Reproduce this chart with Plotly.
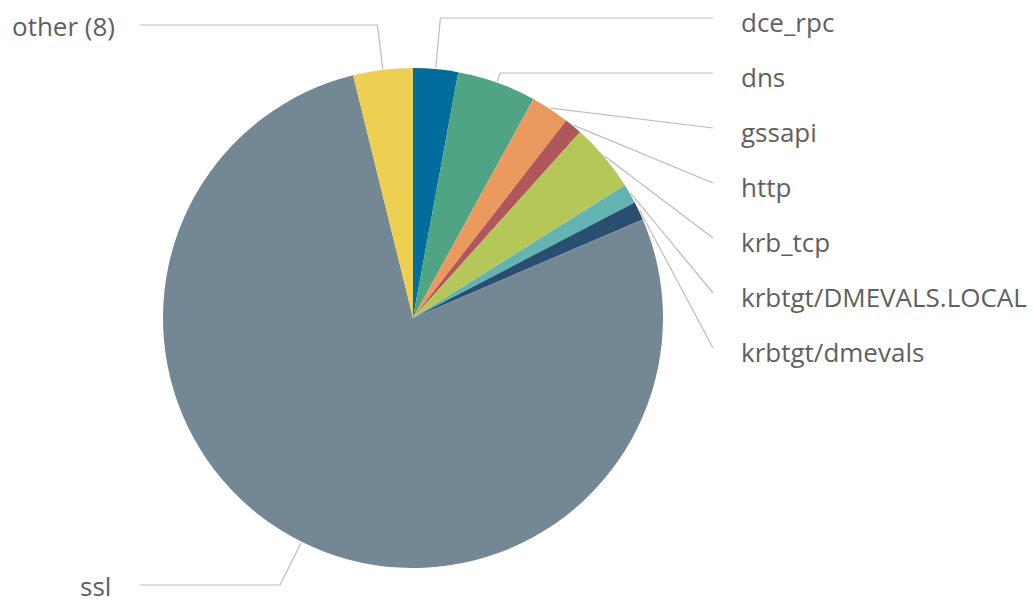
import math
import plotly.graph_objects as go

# ---- data ----
labels = ["dce_rpc", "dns", "gssapi", "http", "krb_tcp",
          "krbtgt/DMEVALS.LOCAL", "krbtgt/dmevals", "ssl", "other (8)"]
values = [2.9, 5.1, 2.5, 1.15, 4.45, 1.25, 1.2, 77.6, 3.85]
colors = ["#006d9c", "#4fa484", "#ec9960", "#af575a", "#b6c75a",
          "#62b3b2", "#294e70", "#738795", "#edd051"]

# ---- layout config ----
W, H = 1033, 604
CX, CY, R = 413, 318, 250
RIGHT_LINE_X, RIGHT_TEXT_X = 713, 739
LEFT_LINE_X = 140
right_slots = [22, 77, 132, 187, 242, 297, 352]
left_slots = {"other (8)": (26, 117), "ssl": (586, 113)}
LINE_OFF = 4

def px(x):
    return x / W

def py(y):
    return 1 - y / H

fig = go.Figure(go.Pie(
    labels=labels, values=values, sort=False, direction="clockwise",
    rotation=0, textinfo="none", showlegend=False,
    marker=dict(colors=colors, line=dict(color="white", width=0)),
    domain=dict(x=[px(CX - R), px(CX + R)], y=[py(CY + R), py(CY - R)]),
    hoverinfo="label+percent",
))

total = sum(values)
cum = 0.0
shapes, annotations = [], []
ri = 0
for lab, v in zip(labels, values):
    mid = (cum + v / 2) / total * 2 * math.pi
    cum += v
    s, c = math.sin(mid), math.cos(mid)
    ex, ey = CX + (R + 1) * s, CY - (R + 1) * c
    if lab in left_slots:
        ty, tx = left_slots[lab]
        side = "left"
        ly = ty - 1
    else:
        ty = right_slots[ri]
        ri += 1
        tx = RIGHT_TEXT_X
        side = "right"
        ly = ty - LINE_OFF
    endx = RIGHT_LINE_X if side == "right" else LEFT_LINE_X
    r_el = (CY - ly) / c if abs(c) > 1e-6 else -1
    if r_el > R:
        elx = CX + r_el * s
        path = f"M {px(ex)} {py(ey)} L {px(elx)} {py(ly)} L {px(endx)} {py(ly)}"
    else:
        path = f"M {px(ex)} {py(ey)} L {px(endx)} {py(ly)}"
    shapes.append(dict(type="path", path=path, xref="paper", yref="paper",
                       line=dict(color="#bdbdbd", width=1.2)))
    annotations.append(dict(
        x=px(tx), y=py(ty), xref="paper", yref="paper", text=lab,
        showarrow=False, xanchor="left" if side == "right" else "right",
        yanchor="middle",
        font=dict(family="Open Sans", size=26, color="#5f5f5f"),
    ))

fig.update_layout(
    width=W, height=H, margin=dict(l=0, r=0, t=0, b=0),
    paper_bgcolor="white", plot_bgcolor="white",
    shapes=shapes, annotations=annotations,
)
fig.write_html("out.html")
